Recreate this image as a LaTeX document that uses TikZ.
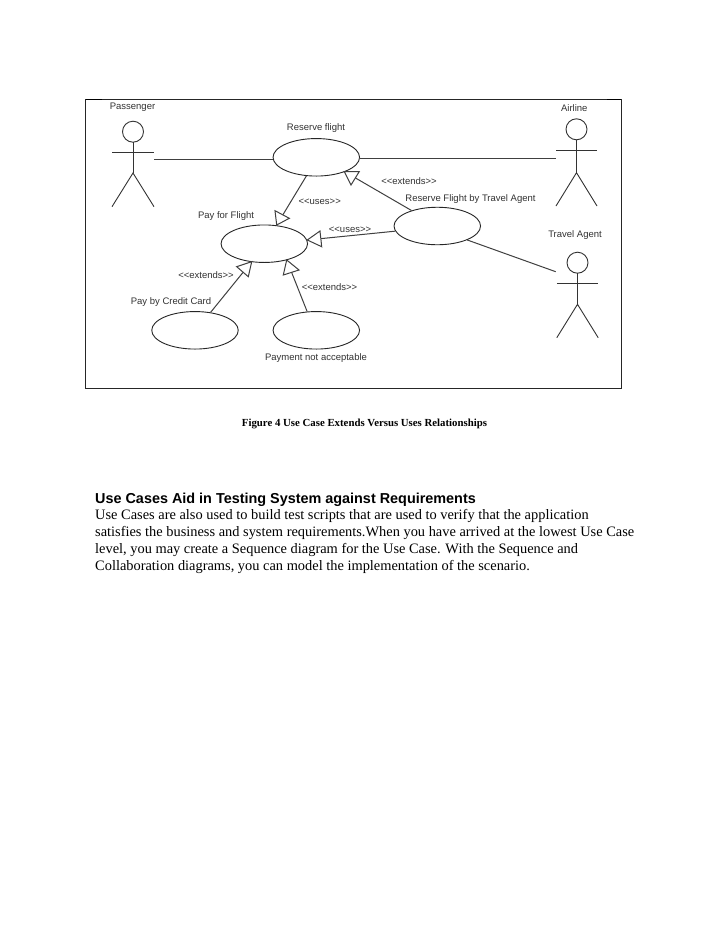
\documentclass[tikz,border=0pt]{standalone}
\usepackage{fontspec}
\setmainfont{Liberation Serif}
\setsansfont{Liberation Sans}
\usetikzlibrary{shapes.geometric}
\tikzset{
  usecase/.style={draw=black!85,line width=0.9pt,ellipse,minimum width=86.5pt,minimum height=37.5pt,inner sep=0pt},
  lbl/.style={font=\sffamily\fontsize{9.5}{10}\selectfont,text=black!80,inner sep=0pt},
  conn/.style={draw=black!75,line width=1pt},
  arrowhd/.style={draw=black!75,line width=1pt,fill=white,line join=miter},
  fig/.style={line width=0.9pt,draw=black!80},
  body/.style={font=\fontsize{14.4}{17.3}\selectfont,anchor=west,inner sep=0pt}
}
\newcommand{\actor}[7]{% x head-y r arm-y body-end half-w leg-y
  \draw[fig] (#1,#2) circle (#3);
  \draw[fig] (#1,#2+#3) -- (#1,#5);
  \draw[fig] (#1-#6,#4) -- (#1+#6,#4);
  \draw[fig] (#1-#6,#7) -- (#1,#5) -- (#1+#6,#7);
}
\begin{document}
\begin{tikzpicture}[x=1pt,y=-1pt]
\useasboundingbox (0,0) rectangle (728,943);
\fill[white] (0,0) rectangle (728,943);
% frame
\draw[black!85,line width=0.9pt] (85.5,99.5) rectangle (621,388);
\draw[black,line width=1.4pt] (85.5,99.5) -- (102,99.5);
\draw[black,line width=1.4pt] (607,99.7) -- (621,99.7);
% actors
\actor{133}{131.7}{10.5}{152}{173}{21}{206.7}
\actor{576.5}{129.3}{10.5}{150.7}{172.7}{20.5}{206}
\actor{577.5}{262.7}{10.5}{283.3}{304.3}{20.7}{337.7}
\coordinate (pa) at (154,159);
\coordinate (aa) at (555.7,158.3);
\coordinate (ta) at (555.7,271.7);
% use cases
\node[usecase] (rf) at (316.3,157.3) {};
\node[usecase] (pf) at (264.3,243.7) {};
\node[usecase] (cc) at (195,330.3) {};
\node[usecase] (pn) at (316.3,330.3) {};
\node[usecase] (rt) at (437.3,226) {};
% plain connectors
\draw[conn] (pa) -- (rf.west |- pa);
\draw[conn] (rf.east |- aa) -- (aa);
\draw[conn] (rt.-25) -- (ta);
% generalisation lines
\coordinate (t1) at (276.7,225);
\coordinate (t2) at (307.3,240);
\coordinate (t3) at (251.7,261.7);
\coordinate (t4) at (286.7,260);
\coordinate (t5) at (344.3,171.5);
\draw[conn] (rf.-118) -- (t1);
\draw[conn] (rt.187) -- (t2);
\draw[conn] (cc.49) -- (t3);
\draw[conn] (pn.116) -- (t4);
\draw[conn] (rt.149) -- (t5);
\draw[arrowhd] (t1) -- (275,210.7) -- (289.3,218.3) -- cycle;
\draw[arrowhd] (t2) -- (320,231) -- (321.7,246.7) -- cycle;
\draw[arrowhd] (t3) -- (236.7,266.7) -- (248.3,276.7) -- cycle;
\draw[arrowhd] (t4) -- (283.3,275) -- (299,270) -- cycle;
\draw[arrowhd] (t5) -- (359.3,171.5) -- (351,185) -- cycle;
% labels
\node[lbl] (l1) at (132.5,107.5) {Passenger};
\node[lbl] (l2) at (316,127.7) {Reserve flight};
\node[lbl] (l3) at (226,216) {Pay for Flight};
\node[lbl] (l4) at (574.3,108.3) {Airline};
\node[lbl] (l5) at (470.5,199) {Reserve Flight by Travel Agent};
\node[lbl] (l6) at (575,234.7) {Travel Agent};
\node[lbl] (l7) at (171,301.7) {Pay by Credit Card};
\node[lbl] (l8) at (316,357.7) {Payment not acceptable};
\node[lbl] (l9) at (319.7,201.7) {<{}<uses>{}>};
\node[lbl] (l10) at (350,229.3) {<{}<uses>{}>};
\node[lbl] (l11) at (409,180.7) {<{}<extends>{}>};
\node[lbl] (l12) at (206,275) {<{}<extends>{}>};
\node[lbl] (l13) at (329.5,287.3) {<{}<extends>{}>};
% text
\node[font=\bfseries\fontsize{10.8}{12}\selectfont,inner sep=0pt] (cap) at (364.5,424) {Figure 4 Use Case Extends Versus Uses Relationships};
\node[font=\sffamily\bfseries\fontsize{14.4}{16}\selectfont,anchor=west,inner sep=0pt] (h) at (95,499.5) {Use Cases Aid in Testing System against Requirements};
\node[body] (b1) at (95,515.5) {Use Cases are also used to build test scripts that are used to verify that the application};
\node[body] (b2) at (95,533) {satisfies the business and system requirements.When you have arrived at the lowest Use Case};
\node[body] (b3) at (95,550) {level, you may create a Sequence diagram for the Use Case. With the Sequence and};
\node[body] (b4) at (95,567) {Collaboration diagrams, you can model the implementation of the scenario.};
\end{tikzpicture}
\end{document}
